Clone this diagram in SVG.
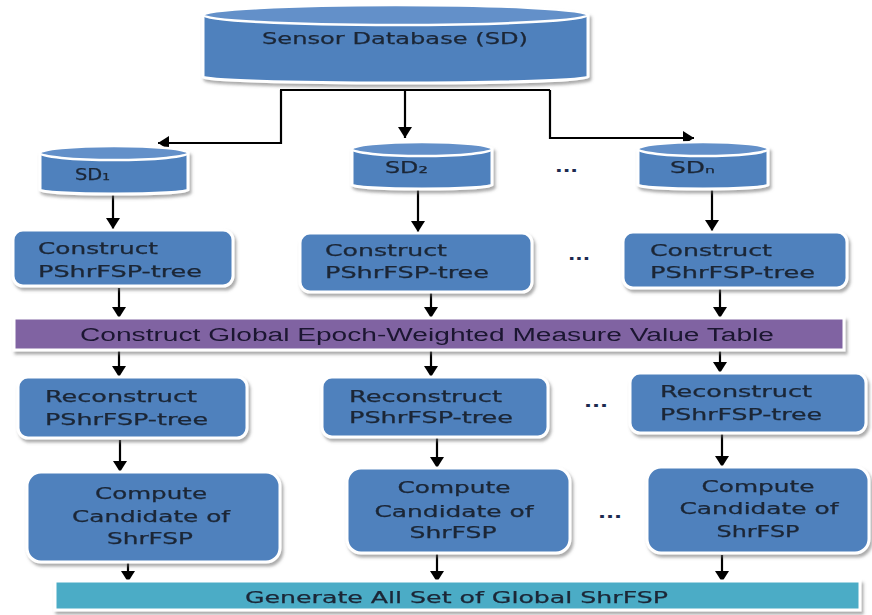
<svg xmlns="http://www.w3.org/2000/svg" width="872" height="615" viewBox="0 0 872 615">
<defs>
<style>
.n{fill:#4f81bd;stroke:#ffffff;stroke-width:3}
.top{fill:#6390c9;stroke:#ffffff;stroke-width:2.5}
.t{font-family:"DejaVu Sans",Verdana,sans-serif;font-size:15px;fill:#1b2636;stroke:#1b2636;stroke-width:0.25}
.c{text-anchor:middle}
.lk{fill:none;stroke:#000;stroke-width:2.2}
.dots{font-family:"DejaVu Sans",sans-serif;font-size:16px;font-weight:bold;fill:#1d2a50}
</style>
<filter id="sh" x="-10%" y="-20%" width="125%" height="150%">
<feDropShadow dx="2" dy="3" stdDeviation="1.5" flood-color="#666" flood-opacity="0.55"/>
</filter>
<marker id="ah" markerWidth="16" markerHeight="16" refX="11" refY="7" orient="auto" markerUnits="userSpaceOnUse">
<path d="M0,0 L11,7 L0,14 Z" fill="#000"/>
</marker>
</defs>
<rect width="872" height="615" fill="#ffffff"/>

<g id="connectors">
<path class="lk" d="M405,90 V138" marker-end="url(#ah)"/>
<path class="lk" d="M280,90 H550"/>
<path class="lk" d="M281,90 V143 H158" marker-end="url(#ah)"/>
<path class="lk" d="M550,90 V138 H694" marker-end="url(#ah)"/>
<path class="lk" d="M113,195 V229" marker-end="url(#ah)"/>
<path class="lk" d="M418,190 V232" marker-end="url(#ah)"/>
<path class="lk" d="M712,190 V231" marker-end="url(#ah)"/>
<path class="lk" d="M119,288 V318" marker-end="url(#ah)"/>
<path class="lk" d="M431,293 V318" marker-end="url(#ah)"/>
<path class="lk" d="M720,289 V318" marker-end="url(#ah)"/>
<path class="lk" d="M119,351 V377" marker-end="url(#ah)"/>
<path class="lk" d="M431,351 V377" marker-end="url(#ah)"/>
<path class="lk" d="M720,351 V373" marker-end="url(#ah)"/>
<path class="lk" d="M120,440 V472" marker-end="url(#ah)"/>
<path class="lk" d="M437,438 V468" marker-end="url(#ah)"/>
<path class="lk" d="M722,434 V467" marker-end="url(#ah)"/>
<path class="lk" d="M128,563 V582" marker-end="url(#ah)"/>
<path class="lk" d="M437,554 V582" marker-end="url(#ah)"/>
<path class="lk" d="M722,555 V582" marker-end="url(#ah)"/>
</g>

<g id="sd" filter="url(#sh)">
<path class="n" d="M203,15 V77 A192.5,6 0 0 0 588,77 V15 Z"/>
<ellipse class="top" cx="395.5" cy="15" rx="192.5" ry="10"/>
<text class="t c" x="395" y="44" textLength="266" lengthAdjust="spacingAndGlyphs" style="font-size:16.5px">Sensor Database (SD)</text>
</g>

<g id="sd1" filter="url(#sh)">
<path class="n" d="M40,153 V190 A74,4 0 0 0 188,190 V153 Z"/>
<ellipse class="top" cx="114" cy="153" rx="74" ry="7"/>
<text class="t" x="75" y="180" textLength="35" lengthAdjust="spacingAndGlyphs">SD₁</text>
</g>
<g id="sd2" filter="url(#sh)">
<path class="n" d="M352,149 V185 A70,4 0 0 0 492,185 V149 Z"/>
<ellipse class="top" cx="422" cy="149" rx="70" ry="7"/>
<text class="t" x="385" y="173" textLength="43" lengthAdjust="spacingAndGlyphs">SD₂</text>
</g>
<g id="sdn" filter="url(#sh)">
<path class="n" d="M638,149 V185 A65,4 0 0 0 768,185 V149 Z"/>
<ellipse class="top" cx="703" cy="149" rx="65" ry="7"/>
<text class="t" x="670" y="173" textLength="45" lengthAdjust="spacingAndGlyphs">SDₙ</text>
</g>

<text class="dots" x="555" y="172" textLength="23" lengthAdjust="spacingAndGlyphs">...</text>
<text class="dots" x="568" y="260" textLength="22" lengthAdjust="spacingAndGlyphs">...</text>
<text class="dots" x="584" y="407" textLength="24" lengthAdjust="spacingAndGlyphs">...</text>
<text class="dots" x="598" y="518" textLength="24" lengthAdjust="spacingAndGlyphs">...</text>

<g id="construct1" filter="url(#sh)">
<rect class="n" x="13" y="230" width="220" height="56" rx="10"/>
<text class="t" x="38" y="254" textLength="120" lengthAdjust="spacingAndGlyphs">Construct</text>
<text class="t" x="38" y="277" textLength="164" lengthAdjust="spacingAndGlyphs">PShrFSP-tree</text>
</g>
<g id="construct2" filter="url(#sh)">
<rect class="n" x="300" y="233" width="232" height="59" rx="10"/>
<text class="t" x="325" y="256" textLength="122" lengthAdjust="spacingAndGlyphs">Construct</text>
<text class="t" x="325" y="278" textLength="164" lengthAdjust="spacingAndGlyphs">PShrFSP-tree</text>
</g>
<g id="construct3" filter="url(#sh)">
<rect class="n" x="623" y="232" width="224" height="56" rx="10"/>
<text class="t" x="650" y="256" textLength="122" lengthAdjust="spacingAndGlyphs">Construct</text>
<text class="t" x="650" y="278" textLength="165" lengthAdjust="spacingAndGlyphs">PShrFSP-tree</text>
</g>

<g id="global-table" filter="url(#sh)">
<rect x="14" y="318" width="830" height="32" fill="#8064a2" stroke="#ffffff" stroke-width="3"/>
<text x="80" y="341" font-family="'Liberation Sans',Arial,sans-serif" font-size="18" fill="#1b1630" textLength="694" lengthAdjust="spacingAndGlyphs">Construct Global Epoch-Weighted Measure Value Table</text>
</g>

<g id="reconstruct1" filter="url(#sh)">
<rect class="n" x="18" y="377" width="229" height="61" rx="10"/>
<text class="t" x="45" y="402" textLength="152" lengthAdjust="spacingAndGlyphs">Reconstruct</text>
<text class="t" x="45" y="425" textLength="163" lengthAdjust="spacingAndGlyphs">PShrFSP-tree</text>
</g>
<g id="reconstruct2" filter="url(#sh)">
<rect class="n" x="322" y="377" width="226" height="60" rx="10"/>
<text class="t" x="349" y="402" textLength="153" lengthAdjust="spacingAndGlyphs">Reconstruct</text>
<text class="t" x="349" y="423" textLength="164" lengthAdjust="spacingAndGlyphs">PShrFSP-tree</text>
</g>
<g id="reconstruct3" filter="url(#sh)">
<rect class="n" x="630" y="373" width="236" height="60" rx="10"/>
<text class="t" x="660" y="397" textLength="152" lengthAdjust="spacingAndGlyphs">Reconstruct</text>
<text class="t" x="660" y="420" textLength="162" lengthAdjust="spacingAndGlyphs">PShrFSP-tree</text>
</g>

<g id="compute1" filter="url(#sh)">
<rect class="n" x="27" y="472" width="253" height="90" rx="14"/>
<text class="t c" x="151" y="499" textLength="112" lengthAdjust="spacingAndGlyphs">Compute</text>
<text class="t c" x="151" y="522" textLength="158" lengthAdjust="spacingAndGlyphs">Candidate of</text>
<text class="t c" x="150" y="544" textLength="86" lengthAdjust="spacingAndGlyphs">ShrFSP</text>
</g>
<g id="compute2" filter="url(#sh)">
<rect class="n" x="347" y="468" width="223" height="85" rx="14"/>
<text class="t c" x="454" y="493" textLength="113" lengthAdjust="spacingAndGlyphs">Compute</text>
<text class="t c" x="454" y="517" textLength="159" lengthAdjust="spacingAndGlyphs">Candidate of</text>
<text class="t c" x="453" y="538" textLength="87" lengthAdjust="spacingAndGlyphs">ShrFSP</text>
</g>
<g id="compute3" filter="url(#sh)">
<rect class="n" x="647" y="467" width="222" height="86" rx="14"/>
<text class="t c" x="758" y="492" textLength="113" lengthAdjust="spacingAndGlyphs">Compute</text>
<text class="t c" x="759" y="514" textLength="159" lengthAdjust="spacingAndGlyphs">Candidate of</text>
<text class="t c" x="758" y="537" textLength="83" lengthAdjust="spacingAndGlyphs">ShrFSP</text>
</g>

<g id="generate" filter="url(#sh)">
<rect x="55" y="581" width="805" height="29" fill="#4bacc6" stroke="#ffffff" stroke-width="3"/>
<text x="245" y="603" font-family="'DejaVu Sans',Verdana,sans-serif" font-size="16" fill="#1b2636" stroke="#1b2636" stroke-width="0.25" textLength="423" lengthAdjust="spacingAndGlyphs">Generate All Set of Global ShrFSP</text>
</g>
</svg>
